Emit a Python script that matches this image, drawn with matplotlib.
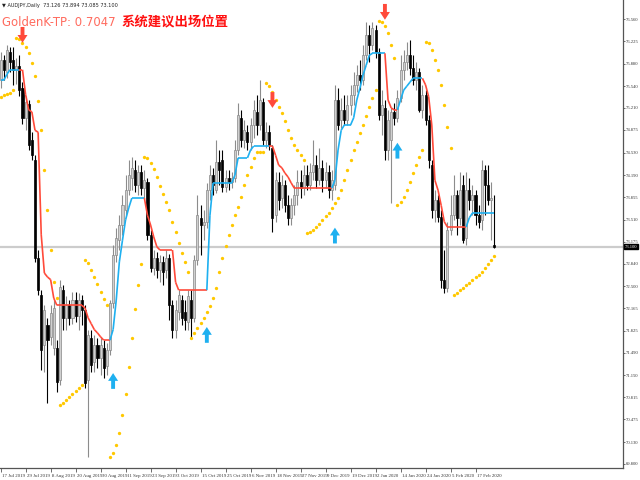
import numpy as np
import matplotlib
matplotlib.use('Agg')
import matplotlib.pyplot as plt
import matplotlib.transforms as mtransforms
from matplotlib.collections import LineCollection

# Daily AUDJPY bars, first bar is 17 Jul 2019
opens = [75.63, 75.94, 75.76, 76.06, 75.94, 75.79, 75.85, 75.51, 75.06, 75.27,
         74.72, 74.42, 72.93, 72.37, 71.61, 71.91, 71.73, 71.56, 71.56, 71.07,
         72.44, 72.02, 72.21, 72.02, 72.29, 72.05, 72.29, 72.14, 71.07, 71.71,
         71.35, 71.61, 71.41, 71.56, 71.29, 71.53, 72.24, 72.98, 73.20, 73.43,
         73.66, 73.96, 74.14, 74.27, 74.04, 74.24, 73.99, 74.08, 73.28, 72.78,
         72.93, 72.75, 72.87, 72.75, 72.93, 72.21, 71.84, 72.11, 72.29, 72.11,
         71.96, 72.29, 72.02, 72.90, 73.54, 73.43, 73.48, 73.96, 74.19, 73.96,
         74.39, 74.42, 74.01, 74.14, 74.08, 74.14, 74.57, 75.06, 74.72, 74.84,
         74.69, 74.95, 75.15, 74.95, 75.30, 74.72, 74.84, 74.60, 73.58, 74.08,
         73.84, 74.04, 73.73, 73.54, 73.73, 73.89, 74.08, 73.99, 74.19, 74.04,
         74.24, 74.34, 74.11, 74.30, 74.11, 74.24, 73.96, 74.04, 75.33, 75.03,
         75.18, 75.03, 75.25, 75.41, 75.56, 75.71, 75.63, 76.01, 76.32, 76.17,
         76.39, 76.06, 75.10, 75.21, 74.57, 74.72, 75.15, 75.06, 75.36, 75.79,
         75.91, 76.01, 75.82, 75.63, 75.76, 75.18, 75.41, 75.03, 74.34, 73.66,
         73.81, 73.55, 72.60, 72.47, 73.35, 73.58, 73.89, 73.54, 74.04, 73.23,
         73.96, 73.81, 73.89, 73.58, 73.51, 74.27, 74.04, 73.81, 73.126]
highs = [76.06, 76.01, 76.17, 76.14, 76.14, 75.97, 76.01, 75.60, 75.39, 75.33,
         74.84, 74.49, 73.05, 72.44, 72.21, 72.02, 72.21, 72.29, 71.68, 72.60,
         72.52, 72.35, 72.29, 72.41, 72.41, 72.40, 72.37, 72.21, 71.84, 71.84,
         71.76, 71.71, 71.71, 71.68, 71.64, 72.29, 73.13, 73.39, 73.58, 73.89,
         74.19, 74.42, 74.46, 74.42, 74.34, 74.34, 74.27, 74.14, 73.35, 73.05,
         73.02, 72.98, 72.96, 73.05, 72.99, 72.29, 72.29, 72.44, 72.37, 72.29,
         72.44, 72.44, 72.98, 73.89, 73.73, 73.66, 74.07, 74.34, 74.30, 74.72,
         74.57, 74.57, 74.27, 74.27, 74.24, 74.72, 75.28, 75.18, 75.03, 74.95,
         75.06, 75.33, 75.41, 75.63, 75.36, 75.00, 74.95, 74.65, 74.24, 74.24,
         74.19, 74.11, 73.89, 73.84, 74.04, 74.27, 74.27, 74.34, 74.34, 74.37,
         74.72, 74.49, 74.60, 74.42, 74.39, 74.34, 74.27, 75.56, 75.51, 75.36,
         75.41, 75.41, 75.56, 75.76, 75.86, 75.94, 76.17, 76.52, 76.47, 76.52,
         76.47, 76.12, 75.48, 75.33, 75.18, 75.21, 75.28, 75.48, 76.01, 76.09,
         76.21, 76.24, 76.01, 75.91, 75.82, 75.56, 75.48, 75.10, 74.42, 73.96,
         73.89, 73.66, 73.05, 73.48, 73.89, 74.19, 73.96, 74.24, 74.19, 74.24,
         74.14, 74.04, 73.96, 73.73, 74.42, 74.34, 74.34, 74.08, 73.894]
lows = [75.51, 75.63, 75.66, 75.76, 75.56, 75.57, 75.39, 74.97, 74.87, 74.57,
        74.42, 72.87, 72.37, 71.23, 71.20, 70.72, 71.61, 71.45, 70.89, 71.00,
        71.84, 71.84, 71.91, 71.93, 71.96, 71.84, 71.91, 70.95, 69.90, 71.20,
        71.20, 71.26, 71.15, 71.10, 71.15, 71.45, 72.17, 72.87, 73.05, 73.28,
        73.58, 73.89, 73.96, 73.93, 73.89, 73.89, 73.84, 73.20, 72.72, 72.67,
        72.63, 72.56, 72.52, 72.63, 71.99, 71.71, 71.71, 71.99, 71.91, 71.84,
        71.84, 71.73, 71.96, 72.82, 72.98, 73.20, 73.39, 73.81, 73.89, 73.92,
        74.04, 73.93, 73.93, 73.96, 73.99, 74.08, 74.49, 74.62, 74.60, 74.57,
        74.57, 74.75, 74.80, 74.87, 74.65, 74.60, 74.57, 73.32, 73.48, 73.66,
        73.69, 73.63, 73.43, 73.43, 73.58, 73.73, 73.84, 73.89, 73.96, 73.96,
        74.11, 73.99, 74.04, 73.93, 73.99, 73.84, 73.81, 73.96, 74.87, 74.90,
        74.95, 74.95, 75.10, 75.25, 75.45, 75.48, 75.56, 75.94, 75.91, 76.09,
        75.97, 75.03, 74.80, 74.42, 74.42, 73.76, 74.95, 75.00, 75.30, 75.63,
        75.79, 75.71, 75.56, 75.48, 75.15, 75.06, 74.95, 74.30, 73.54, 73.48,
        73.48, 72.47, 72.40, 72.41, 73.28, 73.51, 73.28, 73.43, 73.16, 73.13,
        73.66, 73.58, 73.43, 73.39, 73.35, 73.58, 73.73, 73.20, 73.085]
closes = [75.94, 75.79, 76.09, 75.91, 75.79, 75.85, 75.48, 75.06, 75.30, 74.65,
          74.49, 72.93, 72.44, 71.53, 72.14, 71.68, 72.09, 72.17, 71.04, 72.49,
          72.02, 72.21, 72.02, 72.29, 72.05, 72.29, 72.14, 71.03, 71.76, 71.30,
          71.61, 71.41, 71.61, 71.26, 71.53, 72.24, 72.98, 73.23, 73.43, 73.73,
          73.96, 74.19, 74.30, 74.04, 74.24, 73.99, 74.11, 73.28, 72.78, 72.93,
          72.75, 72.87, 72.72, 72.93, 72.21, 71.84, 72.14, 72.37, 72.02, 71.99,
          72.35, 72.02, 72.90, 73.58, 73.43, 73.48, 73.96, 74.19, 74.04, 74.39,
          74.27, 74.01, 74.14, 74.08, 74.14, 74.57, 75.10, 74.72, 74.87, 74.69,
          74.95, 75.18, 74.95, 75.33, 74.72, 74.84, 74.65, 73.54, 74.11, 73.81,
          74.04, 73.73, 73.54, 73.73, 73.89, 74.08, 73.99, 74.19, 74.04, 74.24,
          74.34, 74.11, 74.30, 74.11, 74.24, 73.96, 74.11, 75.33, 74.95, 75.18,
          75.03, 75.25, 75.41, 75.56, 75.71, 75.63, 76.01, 76.32, 76.17, 76.42,
          76.06, 75.10, 75.25, 74.57, 75.03, 75.15, 75.06, 75.36, 75.79, 75.91,
          76.01, 75.82, 75.63, 75.76, 75.18, 75.41, 75.03, 74.42, 73.66, 73.81,
          73.55, 72.60, 72.47, 73.35, 73.58, 73.89, 73.54, 73.96, 73.20, 73.96,
          73.81, 73.89, 73.58, 73.48, 74.27, 74.04, 73.81, 73.84, 73.100]

# GoldenK-TP exit line and its direction runs (bars, 1 = up/blue, -1 = down/red)
tp_line = [75.63, 75.63, 75.72, 75.79, 75.79, 75.79, 75.79, 75.79, 75.41, 75.18,
           75.15, 74.87, 74.84, 73.28, 72.70, 72.64, 72.60, 72.32, 72.21, 72.21,
           72.21, 72.21, 72.21, 72.21, 72.21, 72.21, 72.21, 72.17, 72.02, 71.93,
           71.84, 71.79, 71.73, 71.68, 71.68, 71.68, 71.84, 72.29, 72.87, 73.20,
           73.51, 73.69, 73.84, 73.84, 73.84, 73.84, 73.84, 73.58, 73.43, 73.25,
           73.10, 73.05, 73.05, 73.05, 73.05, 73.05, 72.56, 72.44, 72.44, 72.44,
           72.44, 72.44, 72.44, 72.44, 72.44, 72.44, 72.44, 73.58, 74.07, 74.07,
           74.07, 74.07, 74.07, 74.07, 74.07, 74.19, 74.45, 74.45, 74.45, 74.45,
           74.57, 74.63, 74.63, 74.63, 74.63, 74.63, 74.63, 74.63, 74.49, 74.34,
           74.30, 74.22, 74.16, 74.07, 73.99, 73.99, 73.99, 73.99, 73.99, 73.99,
           73.99, 73.99, 73.99, 73.99, 73.99, 73.99, 73.99, 74.11, 74.57, 74.87,
           74.95, 74.95, 74.95, 75.06, 75.33, 75.51, 75.71, 75.86, 76.01, 76.04,
           76.04, 76.04, 76.04, 76.04, 75.33, 75.21, 75.18, 75.18, 75.33, 75.48,
           75.54, 75.60, 75.66, 75.66, 75.66, 75.66, 75.56, 75.38, 74.95, 74.11,
           73.96, 73.73, 73.48, 73.40, 73.40, 73.40, 73.40, 73.40, 73.40, 73.40,
           73.54, 73.61, 73.61, 73.61, 73.61, 73.61, 73.61, 73.61, 73.61]
trend_runs = [(7, 1), (29, -1), (11, 1), (20, -1), (20, 1), (20, -1),
              (17, 1), (4, -1), (8, 1), (14, -1), (9, 1)]

# parabolic SAR dots
sar = [75.38, 75.41, 75.42, 75.44, 75.48, 76.27, 76.26, 76.20, 76.14, 76.04,
       75.89, 75.69, 75.31, 74.87, 74.27, 73.66, 73.05, 72.56, 72.32, 70.69,
       70.72, 70.77, 70.81, 70.86, 70.91, 70.95, 71.00, 72.90, 72.85, 72.75,
       72.64, 72.53, 72.41, 72.31, 72.21, 69.90, 69.96, 70.09, 70.27, 70.54,
       70.86, 71.27, 71.71, 72.15, 72.52, 72.84, 74.46, 74.45, 74.37, 74.28,
       74.16, 74.02, 73.90, 73.78, 73.66, 73.48, 73.32, 73.16, 73.00, 72.87,
       72.72, 71.71, 71.79, 71.86, 71.94, 72.02, 72.11, 72.20, 72.32, 72.47,
       72.72, 72.93, 73.11, 73.28, 73.43, 73.58, 73.70, 73.86, 74.04, 74.19,
       74.31, 74.45, 74.54, 74.54, 74.54, 75.59, 75.54, 75.45, 75.33, 75.22,
       75.13, 75.01, 74.87, 74.75, 74.65, 74.57, 74.49, 74.42, 73.31, 73.32,
       73.35, 73.40, 73.45, 73.51, 73.57, 73.61, 73.69, 73.76, 73.84, 73.96,
       74.11, 74.27, 74.42, 74.57, 74.69, 74.83, 74.95, 75.09, 75.22, 75.36,
       75.48, 76.53, 76.52, 76.45, 76.35, 76.17, 75.97, 73.73, 73.78, 73.86,
       73.96, 74.08, 74.22, 74.34, 74.46, 74.57, 76.21, 76.20, 76.09, 75.94,
       75.79, 75.56, 75.25, 74.92, 74.60, 72.37, 72.40, 72.44, 72.47, 72.52,
       72.55, 72.60, 72.64, 72.67, 72.72, 72.78, 72.84, 72.90, 72.96]

# signal arrows: bar index and tip price
buy_bars = [36, 66, 107, 127]
buy_prices = [71.18, 71.88, 73.39, 74.68]
sell_bars = [7, 87, 123]
sell_prices = [76.20, 75.21, 76.55]

date_labels = ['17 Jul 2019', '29 Jul 2019', '8 Aug 2019', '20 Aug 2019', '30 Aug 2019',
               '11 Sep 2019', '23 Sep 2019', '3 Oct 2019', '15 Oct 2019', '25 Oct 2019',
               '6 Nov 2019', '18 Nov 2019', '27 Nov 2019', '9 Dec 2019', '19 Dec 2019',
               '2 Jan 2020', '14 Jan 2020', '24 Jan 2020', '5 Feb 2020', '17 Feb 2020']
price_ticks = [76.560, 76.225, 75.880, 75.540, 75.210, 74.875, 74.530, 74.190, 73.855,
               73.510, 73.175, 72.840, 72.500, 72.165, 71.825, 71.490, 71.150, 70.815,
               70.475, 70.130, 69.800]
tp_value = 0.7047

UP_COLOR = '#1eb0f0'
DOWN_COLOR = '#ff4a3a'
SAR_COLOR = '#ffc800'
SMALL_FONT = ['Liberation Serif', 'DejaVu Serif']


def main():
    fig = plt.figure(figsize=(6.4, 4.8), dpi=100)
    ax = fig.add_axes([0, 12.5 / 480, 623 / 640, 467.5 / 480])

    x = np.arange(len(closes))
    o = np.array(opens)
    c = np.array(closes)
    bull = c >= o

    # current price line
    ax.axhline(closes[-1], color='#cccccc', linewidth=1.6, zorder=1)

    # candles: wicks then bodies
    wick_cols = np.where(bull, '#8c8c8c', '#000000')
    ax.vlines(x, lows, highs, colors=wick_cols, linewidth=0.8, zorder=2)
    bottoms = np.minimum(o, c)
    heights = np.maximum(np.abs(c - o), 0.012)
    faces = np.where(bull, '#d0d0d0', '#000000')
    edges = np.where(bull, '#888888', '#000000')
    ax.bar(x, heights, bottom=bottoms, width=0.66, color=faces,
           edgecolor=edges, linewidth=0.5, zorder=3)

    # exit line, coloured by direction
    trend = []
    for n, d in trend_runs:
        trend += [d] * n
    pts = np.column_stack([x, tp_line])
    segs = np.stack([pts[:-1], pts[1:]], axis=1)
    cols = [UP_COLOR if d > 0 else DOWN_COLOR for d in trend[1:]]
    ax.add_collection(LineCollection(segs, colors=cols, linewidths=1.2, zorder=4))

    # SAR dots
    ax.plot(x, sar, 'o', color=SAR_COLOR, markersize=2.4, markeredgewidth=0, zorder=5)

    # arrows
    arrow_len = 0.24
    style = 'simple,head_length=0.7,head_width=0.9,tail_width=0.35'
    for b, p in zip(buy_bars, buy_prices):
        ax.annotate('', xy=(b, p), xytext=(b, p - arrow_len),
                    arrowprops=dict(arrowstyle=style, color=UP_COLOR, lw=0,
                                    shrinkA=0, shrinkB=0, mutation_scale=8), zorder=6)
    for b, p in zip(sell_bars, sell_prices):
        ax.annotate('', xy=(b, p), xytext=(b, p + arrow_len),
                    arrowprops=dict(arrowstyle=style, color=DOWN_COLOR, lw=0,
                                    shrinkA=0, shrinkB=0, mutation_scale=8), zorder=6)

    # axes formatting
    ax.set_xlim(-0.2, 199.2)
    ax.set_ylim(69.745, 76.85)
    for side in ['top', 'left']:
        ax.spines[side].set_visible(False)
    for side in ['right', 'bottom']:
        ax.spines[side].set_color('#555555')
        ax.spines[side].set_linewidth(0.9)

    ax.yaxis.tick_right()
    ax.set_yticks(price_ticks)
    ax.set_yticklabels([f'{v:.3f}' for v in price_ticks], family=SMALL_FONT)
    ax.tick_params(axis='y', length=1.5, width=0.5, pad=0.8, labelsize=3.3, colors='#333333')

    ax.set_xticks(x[::8])
    ax.set_xticklabels(date_labels, ha='left', family=SMALL_FONT)
    ax.tick_params(axis='x', length=3, width=0.5, pad=1.5, labelsize=3.5, colors='#333333')
    offset = mtransforms.ScaledTranslation(1.2 / 72, 0, fig.dpi_scale_trans)
    for lbl in ax.get_xticklabels():
        lbl.set_transform(lbl.get_transform() + offset)

    # last price box on the axis
    trans = mtransforms.blended_transform_factory(ax.transAxes, ax.transData)
    ax.text(1.003, closes[-1], f'{closes[-1]:.3f}', transform=trans, fontsize=3.3,
            color='white', va='center', ha='left', zorder=10, clip_on=False,
            family=SMALL_FONT,
            bbox=dict(boxstyle='square,pad=0.15', fc='black', ec='black'))

    # header and indicator caption
    fig.text(0.003, 0.994,
             f'\u25bc AUDJPY,Daily  {opens[-1]:.3f} {highs[-1]:.3f} {lows[-1]:.3f} {closes[-1]:.3f}',
             fontsize=3.6, va='top', ha='left', color='#222222')
    ax.text(0.004, 0.952, f'GoldenK-TP: {tp_value}', transform=ax.transAxes,
            fontsize=8.4, color='#ff6b5e', va='center', ha='left',
            family=['DejaVu Sans Condensed', 'DejaVu Sans'])
    ax.text(0.195, 0.952, '系统建议出场位置', transform=ax.transAxes,
            fontsize=9.6, color='#ff1010', va='center', ha='left', fontweight='bold',
            family=['Noto Sans CJK SC', 'DejaVu Sans'])

    fig.savefig('out.png', dpi=100)
    plt.close(fig)


if __name__ == '__main__':
    main()
